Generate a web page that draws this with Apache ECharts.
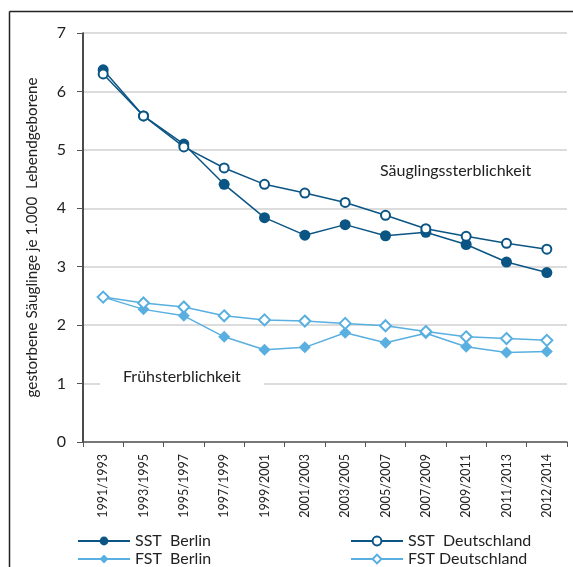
<!DOCTYPE html>
<html><head><meta charset="utf-8">
<script src="https://cdn.jsdelivr.net/npm/echarts@6/dist/echarts.min.js"></script>
<style>html,body{margin:0;padding:0;background:#fff}#c{width:573px;height:567px}</style>
</head><body><div id="c"></div>
<script>
const categories = ['1991/1993','1993/1995','1995/1997','1997/1999','1999/2001','2001/2003','2003/2005','2005/2007','2007/2009','2009/2011','2011/2013','2012/2014'];
const sstBerlin = [6.37, 5.58, 5.10, 4.41, 3.84, 3.54, 3.72, 3.53, 3.59, 3.38, 3.08, 2.90];
const sstDeutschland = [6.30, 5.58, 5.05, 4.69, 4.41, 4.26, 4.10, 3.88, 3.65, 3.52, 3.40, 3.30];
const fstBerlin = [2.48, 2.27, 2.16, 1.80, 1.58, 1.62, 1.87, 1.70, 1.86, 1.63, 1.53, 1.55];
const fstDeutschland = [2.48, 2.38, 2.31, 2.16, 2.09, 2.07, 2.03, 1.99, 1.89, 1.80, 1.77, 1.74];
const yTicks = [0,1,2,3,4,5,6,7];

const DARK = '#0b5584', LIGHT = '#58afe0';
const FONT = 'Lato';
const legendText = {fontSize: 16, color: '#222', fontFamily: FONT};
function leg(name, left, top) {
  return {left: left, top: top, itemWidth: 52, itemHeight: 11, padding: 0, textStyle: legendText, data: [name]};
}
const chart = echarts.init(document.getElementById('c'));
chart.setOption({
  animation: false,
  textStyle: {fontFamily: FONT},
  grid: {left: 83, right: 6, top: 33, bottom: 125},
  xAxis: {
    type: 'category', data: categories, boundaryGap: true,
    axisLine: {lineStyle: {color: '#555', width: 1.5}},
    axisTick: {show: true, length: 5, lineStyle: {color: '#555'}},
    axisLabel: {rotate: 90, fontSize: 12.5, color: '#222', margin: 12, fontFamily: FONT}
  },
  yAxis: {
    type: 'value', min: yTicks[0], max: yTicks[yTicks.length-1], interval: 1,
    name: 'gestorbene Säuglinge je 1.000  Lebendgeborene', nameLocation: 'middle', nameGap: 43,
    nameTextStyle: {fontSize: 15.2, color: '#222', fontFamily: FONT},
    axisLine: {show: true, lineStyle: {color: '#111', width: 1.5}},
    axisTick: {show: true, length: 6, lineStyle: {color: '#555'}},
    axisLabel: {fontSize: 16, color: '#222', margin: 17, fontFamily: FONT},
    splitLine: {lineStyle: {color: '#d0d0d0', width: 1.5}}
  },
  legend: [
    leg('SST  Berlin', 77, 533),
    leg('FST  Berlin', 77, 551),
    leg('SST  Deutschland', 350, 533),
    leg('FST Deutschland', 350, 551)
  ],
  graphic: [
    {type: 'line', shape: {x1: 9.5, y1: 11.5, x2: 573, y2: 11.5}, style: {stroke: '#222', lineWidth: 1.5}, z: 100},
    {type: 'line', shape: {x1: 9.5, y1: 11.5, x2: 9.5, y2: 567}, style: {stroke: '#222', lineWidth: 1.5}, z: 100},
    {type: 'text', left: 380, top: 163, style: {text: 'Säuglingssterblichkeit', fontSize: 16, fill: '#222', fontFamily: FONT}, z: 100},
    {type: 'text', left: 100, top: 367, style: {text: 'Frühsterblichkeit', fontSize: 16, fill: '#222', fontFamily: FONT, backgroundColor: '#fff', padding: [2, 23, 2, 23]}, z: 100}
  ],
  series: [
    {name: 'SST  Berlin', type: 'line', data: sstBerlin, symbol: 'circle', symbolSize: 11,
     itemStyle: {color: DARK}, lineStyle: {color: DARK, width: 1.5}},
    {name: 'FST  Berlin', type: 'line', data: fstBerlin, symbol: 'diamond', symbolSize: 12,
     itemStyle: {color: LIGHT}, lineStyle: {color: LIGHT, width: 1.5}},
    {name: 'SST  Deutschland', type: 'line', data: sstDeutschland, symbol: 'circle', symbolSize: 9,
     itemStyle: {color: '#fff', borderColor: DARK, borderWidth: 2}, lineStyle: {color: DARK, width: 1.5}},
    {name: 'FST Deutschland', type: 'line', data: fstDeutschland, symbol: 'diamond', symbolSize: 11,
     itemStyle: {color: '#fff', borderColor: LIGHT, borderWidth: 2}, lineStyle: {color: LIGHT, width: 1.5}}
  ]
});
</script></body></html>
